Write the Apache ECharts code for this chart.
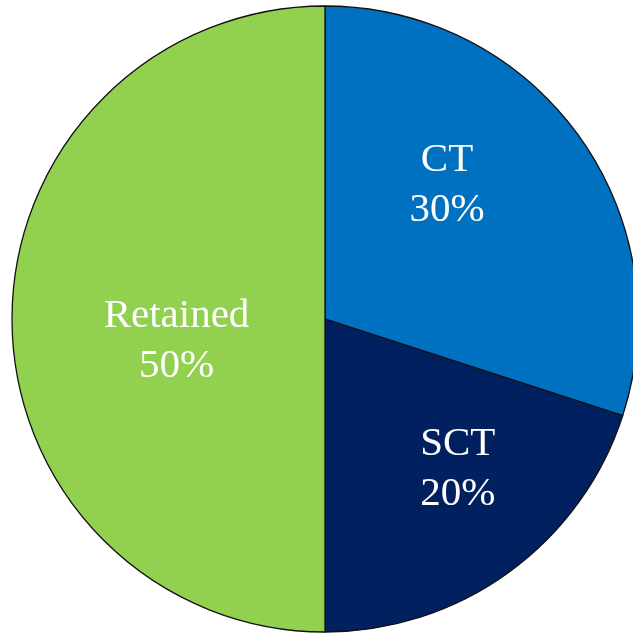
<!DOCTYPE html>
<html>
<head>
<meta charset="utf-8">
<style>
html,body{margin:0;padding:0;background:#fff;}
#c{width:633px;height:634px;}
</style>
<script src="https://cdn.jsdelivr.net/npm/echarts@6/dist/echarts.min.js"></script>
</head>
<body>
<div id="c"></div>
<script>
var categories = ['CT', 'SCT', 'Retained'];
var values = [30, 20, 50];
var colors = ['#0070C0', '#002060', '#92D050'];
var labelShift = [[-7, -40], [39, 21], [11, 22]];

var chart = echarts.init(document.getElementById('c'), null, {renderer: 'canvas'});
var data = categories.map(function (c, i) {
  return {name: c, value: values[i], itemStyle: {color: colors[i]}};
});
chart.setOption({
  backgroundColor: '#ffffff',
  animation: false,
  series: [{
    type: 'pie',
    center: [325, 319],
    radius: [0, 313],
    startAngle: 90,
    clockwise: true,
    avoidLabelOverlap: false,
    data: data,
    itemStyle: {borderColor: '#111111', borderWidth: 1.3},
    label: {
      show: true,
      position: 'inside',
      formatter: '{b}\n{c}%',
      color: '#ffffff',
      fontFamily: '"Liberation Serif", "Times New Roman", serif',
      fontSize: 41,
      lineHeight: 50,
      align: 'center'
    },
    labelLine: {show: false},
    labelLayout: function (p) {
      var s = labelShift[p.dataIndex];
      return {dx: s[0], dy: s[1]};
    },
    emphasis: {disabled: true}
  }]
});
</script>
</body>
</html>
